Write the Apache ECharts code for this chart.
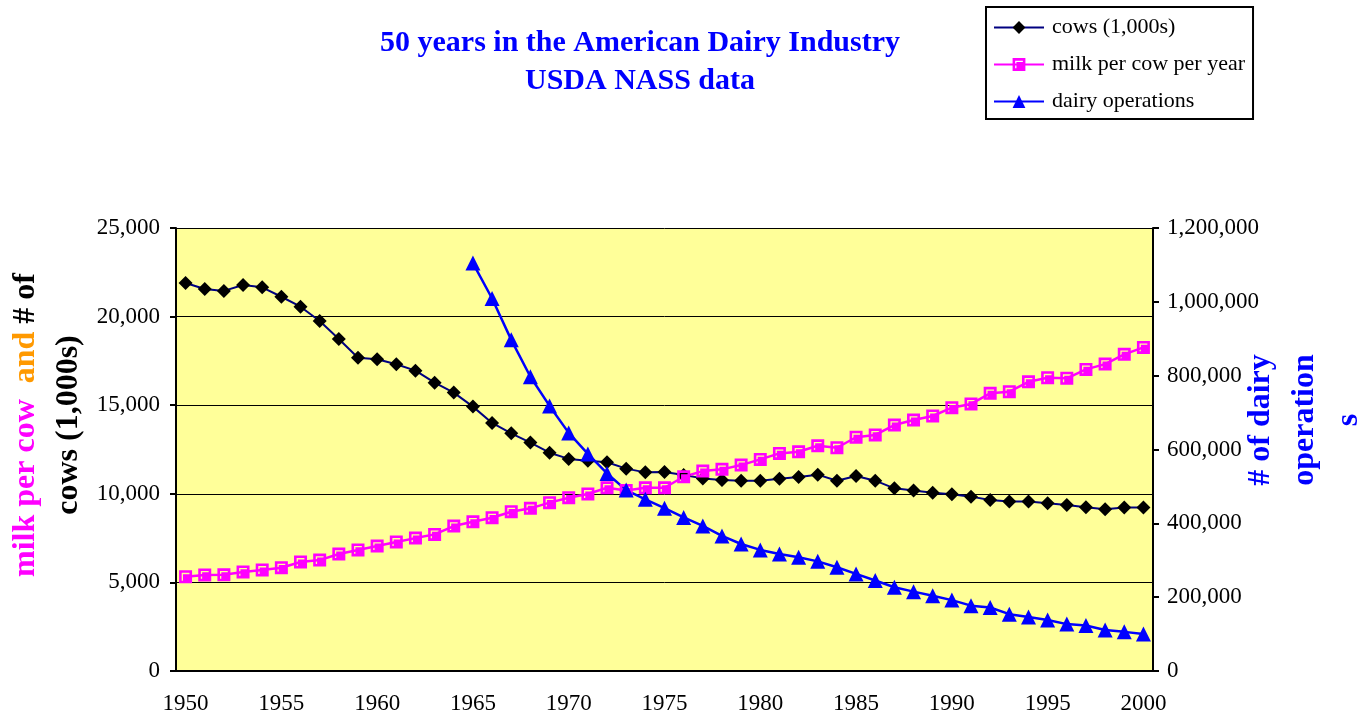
<!DOCTYPE html>
<html>
<head>
<meta charset="utf-8">
<script src="https://cdn.jsdelivr.net/npm/echarts@6/dist/echarts.min.js"></script>
<style>
  html, body { margin: 0; padding: 0; background: #fff; }
  #chart { width: 1370px; height: 719px; }
</style>
</head>
<body>
<div id="chart"></div>
<script>
// years 1950..2000
const years = []
for (let y = 1950; y <= 2000; y++) years.push(String(y))

// cows (1,000s)
const cows = [
  21900, 21560, 21450, 21780, 21650, 21120, 20560, 19750, 18740, 17680,
  17590, 17310, 16950, 16270, 15710, 14920, 14000, 13410, 12890, 12320,
  11970, 11870, 11780, 11420, 11210, 11230, 11060, 10870, 10780, 10740,
  10740, 10850, 10950, 11080, 10740, 11000, 10740, 10310, 10180, 10060,
  9970, 9840, 9650, 9560, 9560, 9460, 9370, 9240, 9130, 9230,
  9230
]

// milk per cow per year
const milkPerCow = [
  5320, 5420, 5430, 5590, 5700, 5830, 6150, 6260, 6600, 6830,
  7050, 7280, 7500, 7710, 8180, 8420, 8650, 8990, 9180, 9500,
  9780, 9990, 10340, 10180, 10340, 10340, 10960, 11280, 11380, 11620,
  11940, 12280, 12370, 12710, 12600, 13190, 13320, 13880, 14160, 14390,
  14860, 15070, 15670, 15760, 16320, 16550, 16520, 17020, 17320, 17870,
  18260
]

// dairy operations (from 1965)
const dairyOps = [
  null, null, null, null, null, null, null, null, null, null,
  null, null, null, null, null, 1105000, 1009000, 897000, 797000, 718000,
  645000, 588000, 535000, 490000, 465000, 441000, 416000, 393000, 366000, 344000,
  328000, 317000, 308000, 297000, 281000, 263000, 245000, 227000, 215000, 204000,
  192000, 177000, 172000, 154000, 146000, 138000, 127000, 123000, 111000, 106000,
  100000
]

const serif = '"Liberation Serif", "DejaVu Serif", serif'
const squareIcon = 'path://M0,0H10V10H0Z M2,2V8H8V2Z M3,3H8V8H3Z'
const nameFont = 'bold 32px ' + serif

const chart = echarts.init(document.getElementById('chart'))
chart.setOption({
  animation: false,
  backgroundColor: '#fff',
  textStyle: { fontFamily: serif },
  title: {
    text: '50 years in the American Dairy Industry\nUSDA NASS data',
    left: 635,
    top: 19,
    textAlign: 'center',
    textStyle: {
      color: '#0000FF',
      fontFamily: serif,
      fontWeight: 'bold',
      fontSize: 30,
      lineHeight: 38
    }
  },
  legend: {
    orient: 'vertical',
    left: 986,
    top: 7,
    padding: [8, 8, 5, 7],
    itemWidth: 50,
    itemHeight: 16,
    itemGap: 12,
    backgroundColor: '#fff',
    borderColor: '#000',
    borderWidth: 2,
    selectedMode: false,
    textStyle: {
      color: '#000',
      fontFamily: serif,
      fontSize: 22,
      lineHeight: 25,
      padding: [0, 0, 0, 3]
    },
    data: ['cows (1,000s)', 'milk per cow per year', 'dairy operations']
  },
  grid: {
    left: 176,
    right: 217,
    top: 228,
    bottom: 48,
    show: true,
    backgroundColor: '#FFFF99',
    borderWidth: 0
  },
  xAxis: {
    type: 'category',
    data: years,
    boundaryGap: true,
    axisLine: { lineStyle: { color: '#000', width: 2 } },
    axisTick: { interval: 0, length: 6, lineStyle: { color: '#000', width: 2 } },
    axisLabel: {
      interval: 4,
      margin: 21,
      color: '#000',
      fontFamily: serif,
      fontSize: 23
    },
    splitLine: { show: false }
  },
  yAxis: [
    {
      type: 'value',
      min: 0,
      max: 25000,
      interval: 5000,
      axisLine: { show: true, lineStyle: { color: '#000', width: 2 } },
      axisTick: { show: true, length: 6, lineStyle: { color: '#000', width: 2 } },
      axisLabel: {
        margin: 16,
        color: '#000',
        fontFamily: serif,
        fontSize: 23,
        formatter: function (v) { return v.toLocaleString('en-US') }
      },
      splitLine: { show: true, lineStyle: { color: '#000', width: 1 } }
    },
    {
      type: 'value',
      min: 0,
      max: 1200000,
      interval: 200000,
      position: 'right',
      axisLine: { show: true, lineStyle: { color: '#000', width: 2 } },
      axisTick: { show: true, length: 6, lineStyle: { color: '#000', width: 2 } },
      axisLabel: {
        margin: 14,
        color: '#000',
        fontFamily: serif,
        fontSize: 23,
        formatter: function (v) { return v.toLocaleString('en-US') }
      },
      splitLine: { show: false }
    }
  ],
  graphic: [
    {
      type: 'text',
      x: 47,
      y: 425,
      rotation: Math.PI / 2,
      style: {
        text: '{m|milk per cow}  {a|and}{b| # of}\n{b|cows (1,000s)}',
        align: 'center',
        verticalAlign: 'middle',
        font: nameFont,
        lineHeight: 43,
        rich: {
          m: { fill: '#FF00FF', font: nameFont, lineHeight: 43 },
          a: { fill: '#FF9900', font: nameFont, lineHeight: 43 },
          b: { fill: '#000', font: nameFont, lineHeight: 43 }
        }
      }
    },
    {
      type: 'text',
      x: 1305,
      y: 420,
      rotation: Math.PI / 2,
      style: {
        text: '# of dairy\noperation\ns',
        align: 'center',
        verticalAlign: 'middle',
        fill: '#0000FF',
        font: nameFont,
        lineHeight: 44
      }
    }
  ],
  series: [
    {
      name: 'cows (1,000s)',
      type: 'line',
      yAxisIndex: 0,
      data: cows,
      showAllSymbol: true,
      symbol: 'diamond',
      symbolSize: 14,
      lineStyle: { color: '#000080', width: 2 },
      itemStyle: { color: '#000', borderWidth: 0 },
      color: '#000080'
    },
    {
      name: 'milk per cow per year',
      type: 'line',
      yAxisIndex: 0,
      data: milkPerCow,
      showAllSymbol: true,
      symbol: squareIcon,
      symbolSize: 13,
      lineStyle: { color: '#FF00FF', width: 2.5 },
      itemStyle: { color: '#FF00FF', borderWidth: 0 },
      color: '#FF00FF'
    },
    {
      name: 'dairy operations',
      type: 'line',
      yAxisIndex: 1,
      data: dairyOps,
      showAllSymbol: true,
      connectNulls: false,
      symbol: 'triangle',
      symbolSize: 15,
      lineStyle: { color: '#0000FF', width: 2.5 },
      itemStyle: { color: '#0000FF', borderWidth: 0 },
      color: '#0000FF'
    }
  ]
})
</script>
</body>
</html>
